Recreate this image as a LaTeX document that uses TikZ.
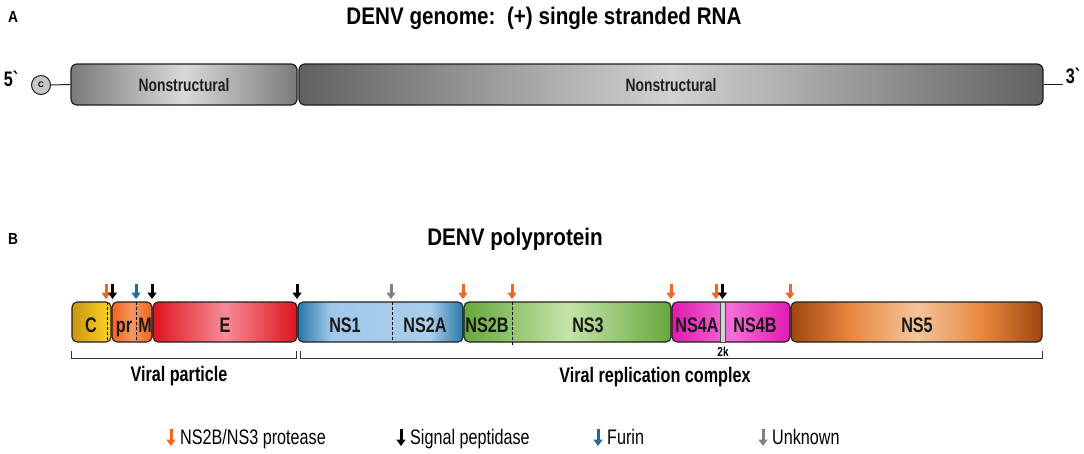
\documentclass[tikz,border=0pt]{standalone}
\usepackage{fontspec}
\setmainfont{Liberation Sans}
\newfontfamily\nar[FakeStretch=0.77,Ligatures=TeXOff]{Liberation Sans}
\newfontfamily\tit[FakeStretch=0.86,Ligatures=TeXOff]{Liberation Sans}
\usetikzlibrary{arrows.meta}
\definecolor{cutor}{HTML}{F26522}
\definecolor{cutbl}{HTML}{1B6C9A}
\definecolor{cutgr}{HTML}{808080}
\definecolor{edge}{HTML}{1E1E1E}
\pgfdeclarehorizontalshading{shGenA}{100bp}{color(0bp)=(black!52); color(25bp)=(black!52); color(50bp)=(black!15); color(75bp)=(black!52); color(100bp)=(black!52)}
\pgfdeclarehorizontalshading{shGenB}{100bp}{color(0bp)=(black!62); color(25bp)=(black!62); color(50bp)=(black!18); color(75bp)=(black!62); color(100bp)=(black!62)}
\pgfdeclarehorizontalshading{shC}{100bp}{color(0bp)=(rgb,255:red,200;green,152;blue,20); color(25bp)=(rgb,255:red,200;green,152;blue,20); color(75bp)=(rgb,255:red,255;green,210;blue,40); color(100bp)=(rgb,255:red,255;green,210;blue,40)}
\pgfdeclarehorizontalshading{shPr}{100bp}{color(0bp)=(rgb,255:red,240;green,100;blue,28); color(25bp)=(rgb,255:red,240;green,100;blue,28); color(50bp)=(rgb,255:red,247;green,150;blue,95); color(75bp)=(rgb,255:red,240;green,100;blue,28); color(100bp)=(rgb,255:red,240;green,100;blue,28)}
\pgfdeclarehorizontalshading{shE}{100bp}{color(0bp)=(rgb,255:red,222;green,20;blue,30); color(25bp)=(rgb,255:red,222;green,20;blue,30); color(50bp)=(rgb,255:red,246;green,140;blue,150); color(75bp)=(rgb,255:red,222;green,20;blue,30); color(100bp)=(rgb,255:red,222;green,20;blue,30)}
\pgfdeclarehorizontalshading{shNSa}{100bp}{color(0bp)=(rgb,255:red,40;green,120;blue,168); color(25bp)=(rgb,255:red,40;green,120;blue,168); color(35bp)=(rgb,255:red,160;green,200;blue,232); color(65bp)=(rgb,255:red,170;green,206;blue,236); color(75bp)=(rgb,255:red,40;green,120;blue,168); color(100bp)=(rgb,255:red,40;green,120;blue,168)}
\pgfdeclarehorizontalshading{shNSb}{100bp}{color(0bp)=(rgb,255:red,104;green,168;blue,60); color(25bp)=(rgb,255:red,104;green,168;blue,60); color(50bp)=(rgb,255:red,196;green,228;blue,168); color(75bp)=(rgb,255:red,104;green,168;blue,60); color(100bp)=(rgb,255:red,104;green,168;blue,60)}
\pgfdeclarehorizontalshading{shNSc}{100bp}{color(0bp)=(rgb,255:red,226;green,24;blue,176); color(25bp)=(rgb,255:red,226;green,24;blue,176); color(50bp)=(rgb,255:red,244;green,110;blue,214); color(75bp)=(rgb,255:red,226;green,24;blue,176); color(100bp)=(rgb,255:red,226;green,24;blue,176)}
\pgfdeclarehorizontalshading{shNSd}{100bp}{color(0bp)=(rgb,255:red,160;green,70;blue,16); color(25bp)=(rgb,255:red,160;green,70;blue,16); color(37bp)=(rgb,255:red,232;green,136;blue,62); color(50bp)=(rgb,255:red,244;green,196;blue,156); color(63bp)=(rgb,255:red,232;green,136;blue,62); color(75bp)=(rgb,255:red,160;green,70;blue,16); color(100bp)=(rgb,255:red,160;green,70;blue,16)}
\begin{document}
\begin{tikzpicture}[x=1pt,y=-1pt,
  gbox/.style={draw=edge, line width=1.2pt, rounded corners=6pt, inner sep=0pt, minimum height=41pt},
  seg/.style={draw=edge, line width=1.1pt, rounded corners=5pt, inner sep=0pt, minimum height=40pt},
  seglab/.style={font=\nar\bfseries\fontsize{21}{21}\selectfont, text=black!90, inner sep=0pt, anchor=base},
  title/.style={font=\tit\bfseries\fontsize{24}{24}\selectfont, inner sep=0pt, anchor=base},
  panel/.style={font=\tit\bfseries\fontsize{16}{16}\selectfont, inner sep=0pt, anchor=base},
  grouplab/.style={font=\nar\bfseries\fontsize{21}{21}\selectfont, inner sep=0pt, anchor=base},
  leglab/.style={font=\nar\fontsize{21}{21}\selectfont, inner sep=0pt, anchor=base west},
  endlab/.style={font=\nar\bfseries\fontsize{21}{21}\selectfont, inner sep=0pt, anchor=base},
  cut/.style={line width=3pt, -{Triangle[width=9pt,length=6.5pt]}},
  sep/.style={dashed, line width=1pt, dash pattern=on 3pt off 2pt},
  bracket/.style={line width=1pt, draw=black!80}
]
\useasboundingbox (0,0) rectangle (1084,453);
% ---------- Panel A ----------
\node[panel] (labA) at (13,22) {A};
\node[title] (titA) at (544,24) {DENV genome:\ \ (+) single stranded RNA};
\node[endlab] (five) at (11,86) {5`};
\node[circle, draw=edge, line width=1pt, fill=black!22, minimum size=19pt, inner sep=0pt, font=\bfseries\fontsize{8}{8}\selectfont] (cap) at (41,85) {C};
\node[gbox, shading=shGenA, minimum width=226pt] (gA) at (184,84.5) {};
\node[font=\nar\bfseries\fontsize{18}{18}\selectfont, text=black!88, inner sep=0pt, anchor=base] (gAl) at (184,91) {Nonstructural};
\node[gbox, shading=shGenB, minimum width=744pt] (gB) at (671,84.5) {};
\node[font=\nar\bfseries\fontsize{18}{18}\selectfont, text=black!88, inner sep=0pt, anchor=base] (gBl) at (671,91) {Nonstructural};
\coordinate (tail) at (1063,84.5);
\node[endlab] (three) at (1073,83) {3`};
\draw[line width=1pt, edge] (cap.east) -- (gA.west);
\draw[line width=1pt, edge] (gB.east) -- (tail);
% ---------- Panel B ----------
\node[panel] (labB) at (13,244) {B};
\node[title] (titB) at (515,245) {DENV polyprotein};
\node[seg, shading=shC, minimum width=39pt] (sC) at (91.5,322) {};
\node[seg, shading=shPr, minimum width=40pt] (sPr) at (132,322) {};
\node[seg, shading=shE, minimum width=144pt] (sE) at (225,322) {};
\node[seg, shading=shNSa, minimum width=165pt] (sNSa) at (380.5,322) {};
\node[seg, shading=shNSb, minimum width=207pt] (sNSb) at (567.5,322) {};
\node[seg, shading=shNSc, minimum width=118pt] (sNSc) at (731,322) {};
\node[seg, shading=shNSd, minimum width=251pt] (sNSd) at (916.5,322) {};
% 2k band
\node[draw=black!70, line width=0.8pt, fill=black!18, minimum width=5pt, minimum height=40pt, inner sep=0pt] (k2) at (722.5,322) {};
% dashed separators
\draw[sep] (107,302) -- (107,342);
\draw[sep] (136,302) -- (136,342);
\draw[sep] (392,302) -- (392,342);
\draw[sep] (512,302) -- (512,346);
% labels
\node[seglab] (lC) at (91,332) {C};
\node[seglab] (lpr) at (124,332) {pr};
\node[seglab] (lM) at (145,332) {M};
\node[seglab] (lE) at (225,332) {E};
\node[seglab] (lNS1) at (345,332) {NS1};
\node[seglab] (lNS2A) at (425,332) {NS2A};
\node[seglab] (lNS2B) at (487,332) {NS2B};
\node[seglab] (lNS3) at (588,332) {NS3};
\node[seglab] (lNS4A) at (697,332) {NS4A};
\node[seglab] (lNS4B) at (755,332) {NS4B};
\node[seglab] (lNS5) at (917,332) {NS5};
\node[font=\nar\bfseries\fontsize{13}{13}\selectfont, inner sep=0pt, anchor=base] (l2k) at (723,356) {2k};
% cleavage arrows
\draw[cut, cutor] (106,284) -- (106,299);
\draw[cut, black] (112.5,284) -- (112.5,299);
\draw[cut, cutbl] (136,284) -- (136,299);
\draw[cut, black] (152,284) -- (152,299);
\draw[cut, black] (297,284) -- (297,299);
\draw[cut, cutgr] (391,284) -- (391,299);
\draw[cut, cutor] (463,284) -- (463,299);
\draw[cut, cutor] (512,284) -- (512,299);
\draw[cut, cutor] (671,284) -- (671,299);
\draw[cut, cutor] (716,284) -- (716,299);
\draw[cut, black] (722.5,284) -- (722.5,299);
\draw[cut, cutor] (790,284) -- (790,299);
% brackets
\draw[bracket] (71,351) -- (71,358) -- (296,358) -- (296,351);
\draw[bracket] (300,351) -- (300,358) -- (1042,358) -- (1042,351);
\node[grouplab] (gp) at (179,381) {Viral particle};
\node[grouplab] (gr) at (655,382) {Viral replication complex};
% legend
\draw[cut, cutor] (171,429) -- (171,446);
\node[leglab] (lg1) at (180,444) {NS2B/NS3 protease};
\draw[cut, black] (401,429) -- (401,446);
\node[leglab] (lg2) at (410,444) {Signal peptidase};
\draw[cut, cutbl] (598,429) -- (598,446);
\node[leglab] (lg3) at (607,444) {Furin};
\draw[cut, cutgr] (763,429) -- (763,446);
\node[leglab] (lg4) at (772,444) {Unknown};
\end{tikzpicture}
\end{document}
